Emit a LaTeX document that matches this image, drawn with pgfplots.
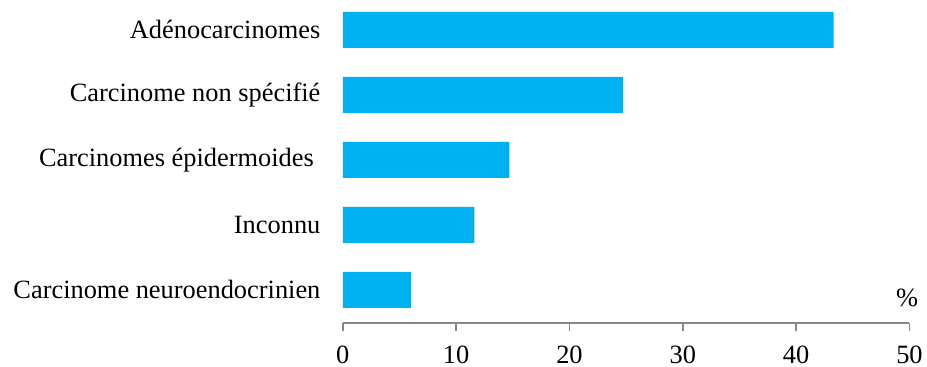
\documentclass[border=0pt]{standalone}
\usepackage{fontspec}
\setmainfont{Liberation Serif}
\usepackage{pgfplots}
\pgfplotsset{compat=1.18}
\definecolor{barblue}{HTML}{00B0F0}
\definecolor{axgray}{HTML}{868686}
\begin{document}
\fontsize{13.2}{15}\selectfont
\begin{tikzpicture}
\begin{axis}[
  scale only axis, width=283.5pt, height=161.5pt,
  xbar, bar width=18pt,
  xmin=0, xmax=50, ymin=-0.508, ymax=4.46,
  axis x line*=bottom, axis y line*=left,
  y axis line style={draw=none},
  x axis line style={axgray, line width=0.75pt},
  xtick={0,10,...,50},
  ytick={0,1,2,3,4},
  yticklabels={Carcinome neuroendocrinien, Inconnu, Carcinomes épidermoides\kern3.3pt, Carcinome non spécifié, Adénocarcinomes},
  ytick style={draw=none},
  xtick style={axgray, line width=0.75pt},
  tick align=outside, major tick length=4pt,
  /pgf/number format/assume math mode=true,
  ticklabel style={font=\fontsize{13.2}{15}\selectfont},
  xticklabel style={anchor=north, inner sep=0pt, yshift=-7.5pt},
  yticklabel style={anchor=east, inner sep=0pt, xshift=-7pt},
  clip=false,
]
\addplot[fill=barblue, draw=none] coordinates {
  (6.0,0) (11.6,1) (14.7,2) (24.7,3) (43.3,4)
};
\node[font=\fontsize{13.2}{15}\selectfont] at (axis cs:49.8,-0.12) {\%};
\path (rel axis cs:0,0) ++(-171.5pt,-22pt);
\end{axis}
\end{tikzpicture}
\end{document}
